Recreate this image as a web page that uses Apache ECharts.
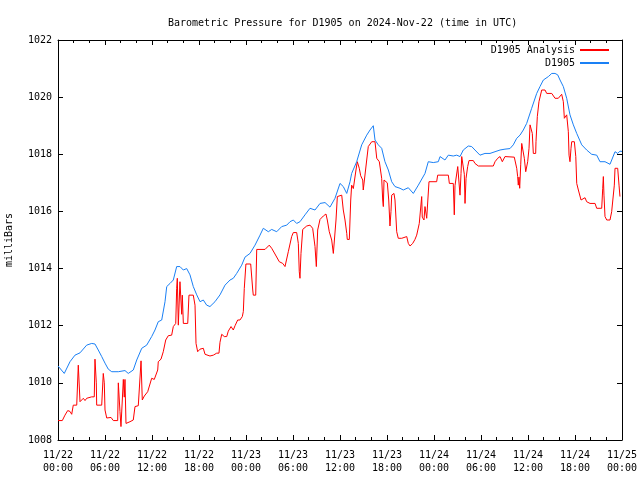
<!DOCTYPE html>
<html>
<head>
<meta charset="utf-8">
<script src="https://cdn.jsdelivr.net/npm/echarts@6/dist/echarts.min.js"></script>
<style>html,body{margin:0;padding:0;background:#fff}#c{width:640px;height:480px}</style>
</head>
<body>
<div id="c"></div>
<script>
// hours since 2024-11-22 00:00 UTC
var stationHours = [0,0.8,1.53,2.17,2.81,3.66,4.3,4.72,5.14,5.58,6.0,6.42,6.86,7.7,8.55,8.97,9.61,10.05,10.69,11.32,11.96,12.38,12.8,13.24,13.66,13.88,14.3,14.72,15.15,15.57,16.0,16.43,16.85,17.27,17.71,18.13,18.55,18.98,19.4,20.04,20.68,21.32,21.96,22.38,22.81,23.45,23.87,24.51,25.15,25.79,26.21,26.85,27.28,27.92,28.56,29.2,29.62,30.04,30.47,30.89,31.53,32.17,32.81,33.45,34.09,34.72,35.36,36.0,36.42,36.86,37.28,37.49,38.13,38.77,39.41,39.83,40.25,40.47,40.89,41.32,41.74,42.17,42.6,43.02,43.66,44.08,44.72,45.36,46.0,46.21,46.85,47.27,47.91,48.55,48.77,49.4,49.83,50.46,50.9,51.32,51.74,52.38,52.81,53.23,53.87,54.51,55.15,55.79,56.43,57.06,57.7,58.12,58.56,58.98,59.4,59.83,60.47,61.11,61.53,61.96,62.6,63.03,63.45,63.79,64.09,64.51,64.94,65.36,65.79,66.22,66.86,67.49,68.13,68.77,69.19,69.83,70.47,71.11,71.45,71.74,72];
var stationValues = [1010.59,1010.33,1010.74,1010.97,1011.05,1011.32,1011.38,1011.36,1011.15,1010.92,1010.69,1010.48,1010.39,1010.39,1010.43,1010.33,1010.45,1010.8,1011.21,1011.32,1011.62,1011.85,1012.14,1012.2,1012.84,1013.37,1013.48,1013.6,1014.07,1014.07,1013.95,1014.0,1013.78,1013.37,1013.08,1012.84,1012.9,1012.72,1012.67,1012.84,1013.08,1013.42,1013.6,1013.66,1013.83,1014.12,1014.4,1014.53,1014.82,1015.17,1015.41,1015.29,1015.37,1015.29,1015.47,1015.52,1015.64,1015.7,1015.58,1015.64,1015.88,1016.11,1016.05,1016.28,1016.31,1016.15,1016.46,1016.98,1016.87,1016.63,1017.04,1017.33,1017.74,1018.33,1018.67,1018.85,1019.0,1018.5,1018.33,1018.21,1017.74,1017.45,1017.04,1016.87,1016.81,1016.75,1016.83,1016.63,1016.92,1016.98,1017.33,1017.74,1017.71,1017.74,1017.92,1017.8,1017.97,1017.94,1017.97,1017.92,1018.15,1018.29,1018.27,1018.15,1017.97,1018.03,1018.03,1018.09,1018.15,1018.18,1018.2,1018.33,1018.56,1018.67,1018.85,1019.08,1019.61,1020.13,1020.37,1020.6,1020.72,1020.83,1020.83,1020.78,1020.6,1020.37,1019.96,1019.38,1019.03,1018.73,1018.33,1018.15,1018.0,1017.97,1017.74,1017.74,1017.65,1018.09,1018.03,1018.11,1018.1];

var analysisHours = [0,0.55,0.89,1.24,1.53,1.75,1.95,2.39,2.59,2.81,3.23,3.45,3.66,4.3,4.63,4.72,4.89,4.94,5.58,5.78,5.91,6.0,6.22,6.42,6.77,7.06,7.62,7.7,7.91,8.04,8.34,8.46,8.55,8.68,9.19,9.61,9.83,10.25,10.6,10.76,11.02,11.45,11.96,12.29,12.73,12.8,13.15,13.44,13.75,14.08,14.51,14.72,15.03,15.15,15.23,15.36,15.49,15.57,15.79,15.87,16.0,16.56,16.72,17.27,17.49,17.62,17.83,18.13,18.55,18.77,19.4,19.83,20.26,20.55,20.68,20.9,21.23,21.54,21.74,22.09,22.38,22.6,22.94,23.23,23.53,23.66,23.78,23.99,24.6,24.86,24.93,25.24,25.37,26.43,26.97,27.28,27.7,28.25,28.69,28.98,29.4,29.83,30.04,30.47,30.68,30.8,30.89,31.02,31.24,31.75,32.17,32.51,32.81,32.98,33.15,33.45,33.87,34.21,34.38,34.63,34.94,35.15,35.36,35.49,35.66,36.22,36.42,36.64,36.86,36.93,37.19,37.37,37.49,37.7,37.91,38.04,38.21,38.46,38.64,38.9,38.97,39.19,39.41,39.61,40.05,40.47,40.69,41.02,41.32,41.45,41.53,41.62,41.74,42.04,42.22,42.38,42.51,42.6,42.89,43.02,43.24,43.44,43.88,44.08,44.52,44.72,44.94,45.28,45.57,45.79,46.0,46.12,46.43,46.5,46.72,46.85,47.07,47.36,48.34,48.47,49.83,49.96,50.46,50.59,50.68,50.9,51.03,51.23,51.32,51.45,51.54,51.74,51.87,51.96,52.09,52.3,52.47,53.02,53.23,53.66,55.57,55.79,56.13,56.43,56.72,57.06,58.25,58.4,58.56,58.68,58.76,58.85,58.94,59.07,59.2,59.4,59.53,59.71,59.83,59.96,60.13,60.26,60.47,60.55,60.68,60.98,61.02,61.19,61.4,61.75,62.17,62.39,63.03,63.23,63.45,63.87,64.09,64.3,64.51,64.64,64.82,64.94,65.07,65.15,65.24,65.36,65.49,65.58,65.92,66.1,66.22,66.43,66.64,66.77,67.28,67.49,67.92,68.56,68.77,69.41,69.54,69.62,69.7,69.83,70.05,70.47,70.68,70.89,71.02,71.11,71.45,71.62,71.74];
var analysisValues = [1008.68,1008.68,1008.87,1009.03,1009.0,1008.9,1009.22,1009.22,1010.62,1009.34,1009.46,1009.38,1009.46,1009.51,1009.51,1010.83,1010.0,1009.22,1009.22,1010.33,1010.0,1009.05,1008.77,1008.7,1008.79,1008.68,1008.68,1010.0,1009.0,1008.47,1010.12,1009.5,1010.12,1008.58,1008.64,1008.7,1009.17,1009.2,1010.77,1009.4,1009.54,1009.69,1010.16,1010.12,1010.45,1010.74,1010.83,1011.09,1011.5,1011.65,1011.67,1011.97,1012.08,1013.31,1013.66,1012.02,1012.02,1013.54,1012.4,1013.07,1012.08,1012.08,1013.07,1013.07,1012.72,1011.38,1011.09,1011.18,1011.21,1011.0,1010.94,1010.97,1011.04,1011.04,1011.42,1011.7,1011.62,1011.62,1011.81,1011.97,1011.85,1012.0,1012.2,1012.2,1012.32,1012.5,1013.3,1014.16,1014.16,1013.25,1013.07,1013.07,1014.67,1014.67,1014.82,1014.71,1014.51,1014.24,1014.18,1014.07,1014.59,1015.12,1015.26,1015.26,1014.88,1013.89,1013.66,1014.53,1015.37,1015.49,1015.52,1015.41,1014.77,1014.07,1015.35,1015.72,1015.84,1015.91,1015.7,1015.29,1015.0,1014.53,1014.53,1015.7,1016.52,1016.57,1016.05,1015.7,1015.23,1015.02,1015.02,1016.4,1016.92,1016.8,1016.75,1017.45,1017.74,1017.51,1017.25,1017.1,1016.75,1016.75,1017.8,1018.27,1018.44,1018.44,1017.86,1017.74,1017.16,1016.4,1016.17,1017.1,1017.16,1017.0,1016.4,1015.49,1016.0,1016.57,1016.63,1016.4,1015.29,1015.06,1015.06,1015.12,1015.12,1014.88,1014.79,1014.88,1015.02,1015.17,1015.1,1015.58,1016.52,1015.8,1015.7,1016.17,1015.76,1017.04,1017.04,1017.27,1017.27,1016.98,1016.98,1015.88,1016.9,1016.9,1017.57,1017.57,1016.57,1017.33,1017.92,1017.92,1017.3,1016.28,1017.16,1017.57,1017.78,1017.78,1017.68,1017.59,1017.59,1017.74,1017.86,1017.92,1017.74,1017.92,1017.9,1017.9,1017.51,1017.22,1016.92,1017.2,1016.81,1017.63,1018.38,1018.38,1017.86,1017.39,1017.45,1017.74,1018.21,1019.03,1018.97,1018.73,1018.03,1018.03,1018.44,1019.32,1019.84,1020.25,1020.25,1020.13,1020.13,1020.15,1019.96,1019.96,1020.02,1020.1,1019.84,1019.26,1019.26,1019.38,1019.38,1018.79,1017.97,1017.74,1018.21,1018.44,1018.44,1017.92,1016.98,1016.75,1016.69,1016.4,1016.48,1016.34,1016.28,1016.28,1016.11,1016.11,1016.81,1017.22,1016.57,1015.82,1015.7,1015.7,1015.99,1015.99,1016.92,1017.51,1017.51,1016.92,1016.52];

var seriesNames = ['D1905 Analysis', 'D1905'];
var titleText = 'Barometric Pressure for D1905 on 2024-Nov-22 (time in UTC)';
var yAxisTitle = 'milliBars';

function pairs(h, v) { return h.map(function (x, i) { return [x, v[i]]; }); }
function timeLabel(h) {
  var day = 22 + Math.floor(h / 24);
  var hr = h % 24;
  var month = 11;
  if (day > 30) { day -= 30; month = 12; }
  return month + '/' + day + '\n' + (hr < 10 ? '0' : '') + hr + ':00';
}

var FONT = 'DejaVu Sans Mono';
var chart = echarts.init(document.getElementById('c'), null, {renderer: 'canvas'});
var axisCommon = {
  axisLine: {show: true, onZero: false, lineStyle: {color: '#000', width: 1}},
  splitLine: {show: false}
};
chart.setOption({
  animation: false,
  backgroundColor: '#fff',
  title: {
    text: titleText, left: 163, top: 13,
    textStyle: {fontFamily: FONT, fontSize: 10, fontWeight: 'normal', color: '#000'}
  },
  legend: {
    orient: 'vertical', align: 'right', right: 25, top: 39,
    itemWidth: 29, itemHeight: 1, itemGap: 1,
    data: seriesNames,
    textStyle: {fontFamily: FONT, fontSize: 10, color: '#000', lineHeight: 12},
    itemStyle: {opacity: 0}
  },
  grid: {left: 58, right: 18, top: 40, bottom: 40, containLabel: false, outerBoundsMode: 'none'},
  xAxis: [
    Object.assign({
      type: 'value', min: 0, max: 72, interval: 6, position: 'bottom',
      axisTick: {show: true, inside: true, length: 5, lineStyle: {color: '#000'}},
      minorTick: {show: true, splitNumber: 3, length: 3, lineStyle: {color: '#000'}},
      axisLabel: {fontFamily: FONT, fontSize: 10, color: '#000', margin: 9, lineHeight: 13, formatter: timeLabel, showMinLabel: true, showMaxLabel: true, hideOverlap: false}
    }, axisCommon),
    Object.assign({
      type: 'value', min: 0, max: 72, interval: 6, position: 'top',
      axisTick: {show: true, inside: true, length: 5, lineStyle: {color: '#000'}},
      minorTick: {show: true, splitNumber: 3, length: 3, lineStyle: {color: '#000'}},
      axisLabel: {show: false}
    }, axisCommon)
  ],
  yAxis: [
    Object.assign({
      type: 'value', min: 1008, max: 1022, interval: 2, position: 'left',
      name: yAxisTitle, nameLocation: 'middle', nameGap: 44, nameRotate: 90,
      nameTextStyle: {fontFamily: FONT, fontSize: 10, color: '#000'},
      axisTick: {show: true, inside: true, length: 5, lineStyle: {color: '#000'}},
      axisLabel: {fontFamily: FONT, fontSize: 10, color: '#000', margin: 6, formatter: function (v) { return String(v); }}
    }, axisCommon),
    Object.assign({
      type: 'value', min: 1008, max: 1022, interval: 2, position: 'right',
      axisTick: {show: true, inside: true, length: 5, lineStyle: {color: '#000'}},
      axisLabel: {show: false}
    }, axisCommon)
  ],
  series: [
    {
      name: seriesNames[0], type: 'line', xAxisIndex: 0, yAxisIndex: 0,
      data: pairs(analysisHours, analysisValues),
      showSymbol: false, symbol: 'none', color: '#ff0000',
      lineStyle: {width: 1, color: '#ff0000'}
    },
    {
      name: seriesNames[1], type: 'line', xAxisIndex: 0, yAxisIndex: 0,
      data: pairs(stationHours, stationValues),
      showSymbol: false, symbol: 'none', color: '#1a80f5',
      lineStyle: {width: 1, color: '#1a80f5'}
    }
  ]
});
</script>
</body>
</html>
